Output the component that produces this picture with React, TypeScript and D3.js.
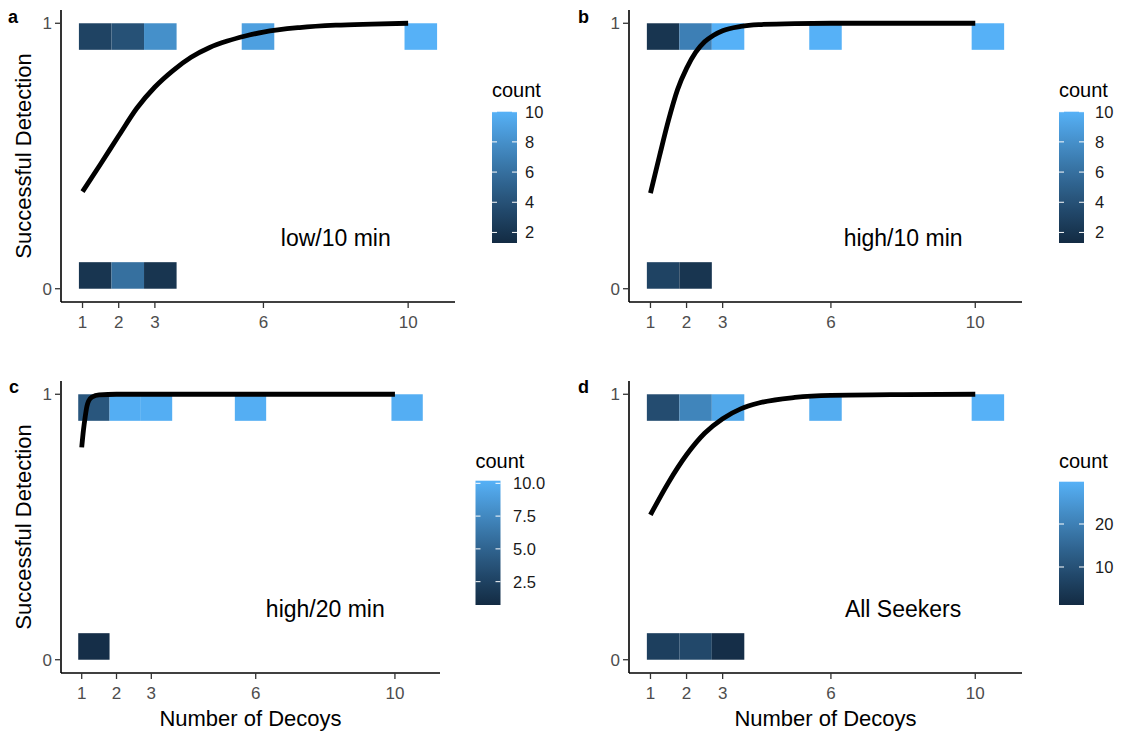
import React from "react";
import * as d3 from "d3";

// ---------- data ----------
const panelTags = ["a", "b", "c", "d"];
const panelTitles = ["low/10 min", "high/10 min", "high/20 min", "All Seekers"];
const xTickValues = [1, 2, 3, 6, 10];
const yTickValues = [0, 1];
const xAxisTitle = "Number of Decoys";
const yAxisTitle = "Successful Detection";
const legendTitle = "count";

// tiles: [decoys, detected, count]
const tilesA: [number, number, number][] = [
  [1, 1, 3], [2, 1, 4], [3, 1, 8], [6, 1, 9], [10, 1, 10],
  [1, 0, 2], [2, 0, 6], [3, 0, 2],
];
const tilesB: [number, number, number][] = [
  [1, 1, 2], [2, 1, 7], [3, 1, 10], [6, 1, 10], [10, 1, 10],
  [1, 0, 3], [2, 0, 2],
];
const tilesC: [number, number, number][] = [
  [1, 1, 4], [2, 1, 10], [3, 1, 10], [6, 1, 10], [10, 1, 10],
  [1, 0, 1],
];
const tilesD: [number, number, number][] = [
  [1, 1, 9], [2, 1, 21], [3, 1, 28], [6, 1, 29], [10, 1, 30],
  [1, 0, 6], [2, 0, 8], [3, 0, 2],
];

const colourLimitsA = [1.3, 10];
const colourLimitsB = [1.3, 10];
const colourLimitsC = [0.72, 10.2];
const colourLimitsD = [1.16, 29.84];
const legendBreaksA = [2, 4, 6, 8, 10];
const legendBreaksB = [2, 4, 6, 8, 10];
const legendBreaksC = [2.5, 5, 7.5, 10];
const legendBreaksD = [10, 20];
const legendLabelsA = ["2", "4", "6", "8", "10"];
const legendLabelsB = ["2", "4", "6", "8", "10"];
const legendLabelsC = ["2.5", "5.0", "7.5", "10.0"];
const legendLabelsD = ["10", "20"];

// fitted detection curves
const fitXA = [1, 1.5, 2, 2.5, 3, 3.5, 4, 4.5, 5, 5.5, 6, 7, 8, 9, 10];
const fitYA = [0.366, 0.47, 0.576, 0.68, 0.76, 0.822, 0.872, 0.908, 0.933, 0.952, 0.967, 0.984, 0.993, 0.997, 1.0];
const fitXB = [1, 1.25, 1.5, 1.75, 2, 2.25, 2.5, 2.75, 3, 3.5, 4, 5, 6, 8, 10];
const fitYB = [0.36, 0.5, 0.635, 0.75, 0.83, 0.89, 0.93, 0.955, 0.972, 0.988, 0.995, 0.999, 1, 1, 1];
const fitXC = [1, 1.05, 1.1, 1.15, 1.2, 1.3, 1.5, 2, 3, 6, 10];
const fitYC = [0.8, 0.865, 0.915, 0.955, 0.975, 0.99, 0.998, 1, 1, 1, 1];
const fitXD = [1, 1.5, 2, 2.5, 3, 3.5, 4, 5, 6, 8, 10];
const fitYD = [0.546, 0.668, 0.772, 0.853, 0.908, 0.945, 0.967, 0.988, 0.996, 0.999, 1];

// bin settings of the 2-d histogram
const xBinWidth = 0.9;
const xBinOrigin = 0.9;
const yBinHeight = 0.1;

const lowColour = "#132B43";
const highColour = "#56B1F7";

// ---------- layout ----------
const FONT = "'Liberation Sans', Arial, Helvetica, sans-serif";

const layouts = [
  { left: 61, right: 455, top: 10, bottom: 302, lx: 492, lTop: 111.7, lBot: 243, lTitleY: 97, lLabX: 525, tagX: 8, tagY: 23, yTitle: true, xTitle: false },
  { left: 629, right: 1022, top: 10, bottom: 302, lx: 1059, lTop: 111.7, lBot: 243, lTitleY: 97, lLabX: 1095, tagX: 578, tagY: 23, yTitle: false, xTitle: false },
  { left: 61, right: 440, top: 381, bottom: 673, lx: 475.5, lTop: 480.7, lBot: 605, lTitleY: 468, lLabX: 513, tagX: 9, tagY: 393, yTitle: true, xTitle: true },
  { left: 629, right: 1022, top: 381, bottom: 673, lx: 1059, lTop: 481.7, lBot: 605, lTitleY: 468, lLabX: 1095, tagX: 578, tagY: 393, yTitle: false, xTitle: true },
];

const panelTiles = [tilesA, tilesB, tilesC, tilesD];
const panelLimits = [colourLimitsA, colourLimitsB, colourLimitsC, colourLimitsD];
const panelBreaks = [legendBreaksA, legendBreaksB, legendBreaksC, legendBreaksD];
const panelBreakLabels = [legendLabelsA, legendLabelsB, legendLabelsC, legendLabelsD];
const panelFitX = [fitXA, fitXB, fitXC, fitXD];
const panelFitY = [fitYA, fitYB, fitYC, fitYD];

function xBin(v: number): [number, number] {
  const k = Math.floor((v - xBinOrigin) / xBinWidth + 1e-9);
  const lo = xBinOrigin + k * xBinWidth;
  return [lo, lo + xBinWidth];
}
function yBin(v: number): [number, number] {
  const lo = Math.min(Math.floor(v / yBinHeight + 1e-9) * yBinHeight, 1 - yBinHeight);
  return [lo, lo + yBinHeight];
}

function Panel({ i }: { i: number }) {
  const L = layouts[i];
  const tiles = panelTiles[i];
  const bins = tiles.map((t) => ({ x: xBin(t[0]), y: yBin(t[1]), count: t[2] }));
  const xmin = d3.min(bins, (b) => b.x[0]) as number;
  const xmax = d3.max(bins, (b) => b.x[1]) as number;
  const pad = (xmax - xmin) * 0.05;
  const x = d3.scaleLinear().domain([xmin - pad, xmax + pad]).range([L.left, L.right]);
  const y = d3.scaleLinear().domain([-0.05, 1.05]).range([L.bottom, L.top]);
  const lim = panelLimits[i];
  const colour = d3
    .scaleLinear<string>()
    .domain(lim)
    .range([lowColour, highColour])
    .interpolate(d3.interpolateLab)
    .clamp(true);
  const legendY = d3.scaleLinear().domain(lim).range([L.lBot, L.lTop]);

  const fx = panelFitX[i];
  const fy = panelFitY[i];
  const pts = fx.map((v, k) => [v, fy[k]] as [number, number]);
  const line = d3
    .line<[number, number]>()
    .x((d) => x(d[0]))
    .y((d) => y(d[1]))
    .curve(d3.curveMonotoneX);

  const gradId = `grad-${panelTags[i]}`;
  const stops = d3.range(0, 1.0001, 0.05);
  const barW = 25;
  const tickLen = 5;

  return (
    <g>
      <defs>
        <linearGradient id={gradId} x1="0" y1="1" x2="0" y2="0">
          {stops.map((s) => (
            <stop key={s} offset={s} stopColor={colour(lim[0] + s * (lim[1] - lim[0]))} />
          ))}
        </linearGradient>
      </defs>
      {/* tiles */}
      {bins.map((b, k) => (
        <rect
          key={k}
          x={x(b.x[0])}
          y={y(b.y[1])}
          width={x(b.x[1]) - x(b.x[0])}
          height={y(b.y[0]) - y(b.y[1])}
          fill={colour(b.count)}
        />
      ))}
      {/* fitted curve */}
      <path d={line(pts) || ""} fill="none" stroke="#000" strokeWidth={4.8} strokeLinejoin="round" />
      {/* annotation */}
      <text x={x(8)} y={y(0.19)} dy="0.35em" textAnchor="middle" fontSize={23} fill="#000" fontFamily={FONT}>
        {panelTitles[i]}
      </text>
      {/* axes */}
      <line x1={L.left} x2={L.left} y1={L.top} y2={L.bottom} stroke="#000" strokeWidth={1.6} />
      <line x1={L.left} x2={L.right} y1={L.bottom} y2={L.bottom} stroke="#000" strokeWidth={1.6} />
      {yTickValues.map((v) => (
        <g key={`y${v}`}>
          <line x1={L.left - 6} x2={L.left} y1={y(v)} y2={y(v)} stroke="#333" strokeWidth={1.3} />
          <text x={L.left - 9} y={y(v)} dy="0.36em" textAnchor="end" fontSize={17} fill="#4d4d4d" fontFamily={FONT}>
            {v}
          </text>
        </g>
      ))}
      {xTickValues.map((v) => (
        <g key={`x${v}`}>
          <line x1={x(v)} x2={x(v)} y1={L.bottom} y2={L.bottom + 6} stroke="#333" strokeWidth={1.3} />
          <text x={x(v)} y={L.bottom + 26} textAnchor="middle" fontSize={17} fill="#4d4d4d" fontFamily={FONT}>
            {v}
          </text>
        </g>
      ))}
      {L.yTitle && (
        <text
          transform={`translate(31,${(L.top + L.bottom) / 2}) rotate(-90)`}
          textAnchor="middle"
          fontSize={22}
          fill="#000"
          fontFamily={FONT}
        >
          {yAxisTitle}
        </text>
      )}
      {L.xTitle && (
        <text x={(L.left + L.right) / 2} y={L.bottom + 53} textAnchor="middle" fontSize={22} fill="#000" fontFamily={FONT}>
          {xAxisTitle}
        </text>
      )}
      {/* tag */}
      <text x={L.tagX} y={L.tagY} fontSize={18} fontWeight="bold" fill="#000" fontFamily={FONT}>
        {panelTags[i]}
      </text>
      {/* legend */}
      <text x={L.lx} y={L.lTitleY} fontSize={20} fill="#000" fontFamily={FONT}>
        {legendTitle}
      </text>
      <rect x={L.lx} y={L.lTop} width={barW} height={L.lBot - L.lTop} fill={`url(#${gradId})`} />
      {panelBreaks[i].map((v, k) => (
        <g key={`l${v}`}>
          <line x1={L.lx} x2={L.lx + tickLen} y1={legendY(v)} y2={legendY(v)} stroke="#fff" strokeWidth={1} />
          <line x1={L.lx + barW - tickLen} x2={L.lx + barW} y1={legendY(v)} y2={legendY(v)} stroke="#fff" strokeWidth={1} />
          <text x={L.lLabX} y={legendY(v)} dy="0.36em" fontSize={16.5} fill="#1a1a1a" fontFamily={FONT}>
            {panelBreakLabels[i][k]}
          </text>
        </g>
      ))}
    </g>
  );
}

export default function App() {
  return (
    <div style={{ position: "absolute", left: 0, top: 0, width: 1121, height: 732, background: "#fff" }}>
      <svg width={1121} height={732} viewBox="0 0 1121 732" style={{ display: "block" }}>
        <rect x={0} y={0} width={1121} height={732} fill="#fff" />
        {panelTags.map((_, i) => (
          <Panel key={i} i={i} />
        ))}
      </svg>
    </div>
  );
}
